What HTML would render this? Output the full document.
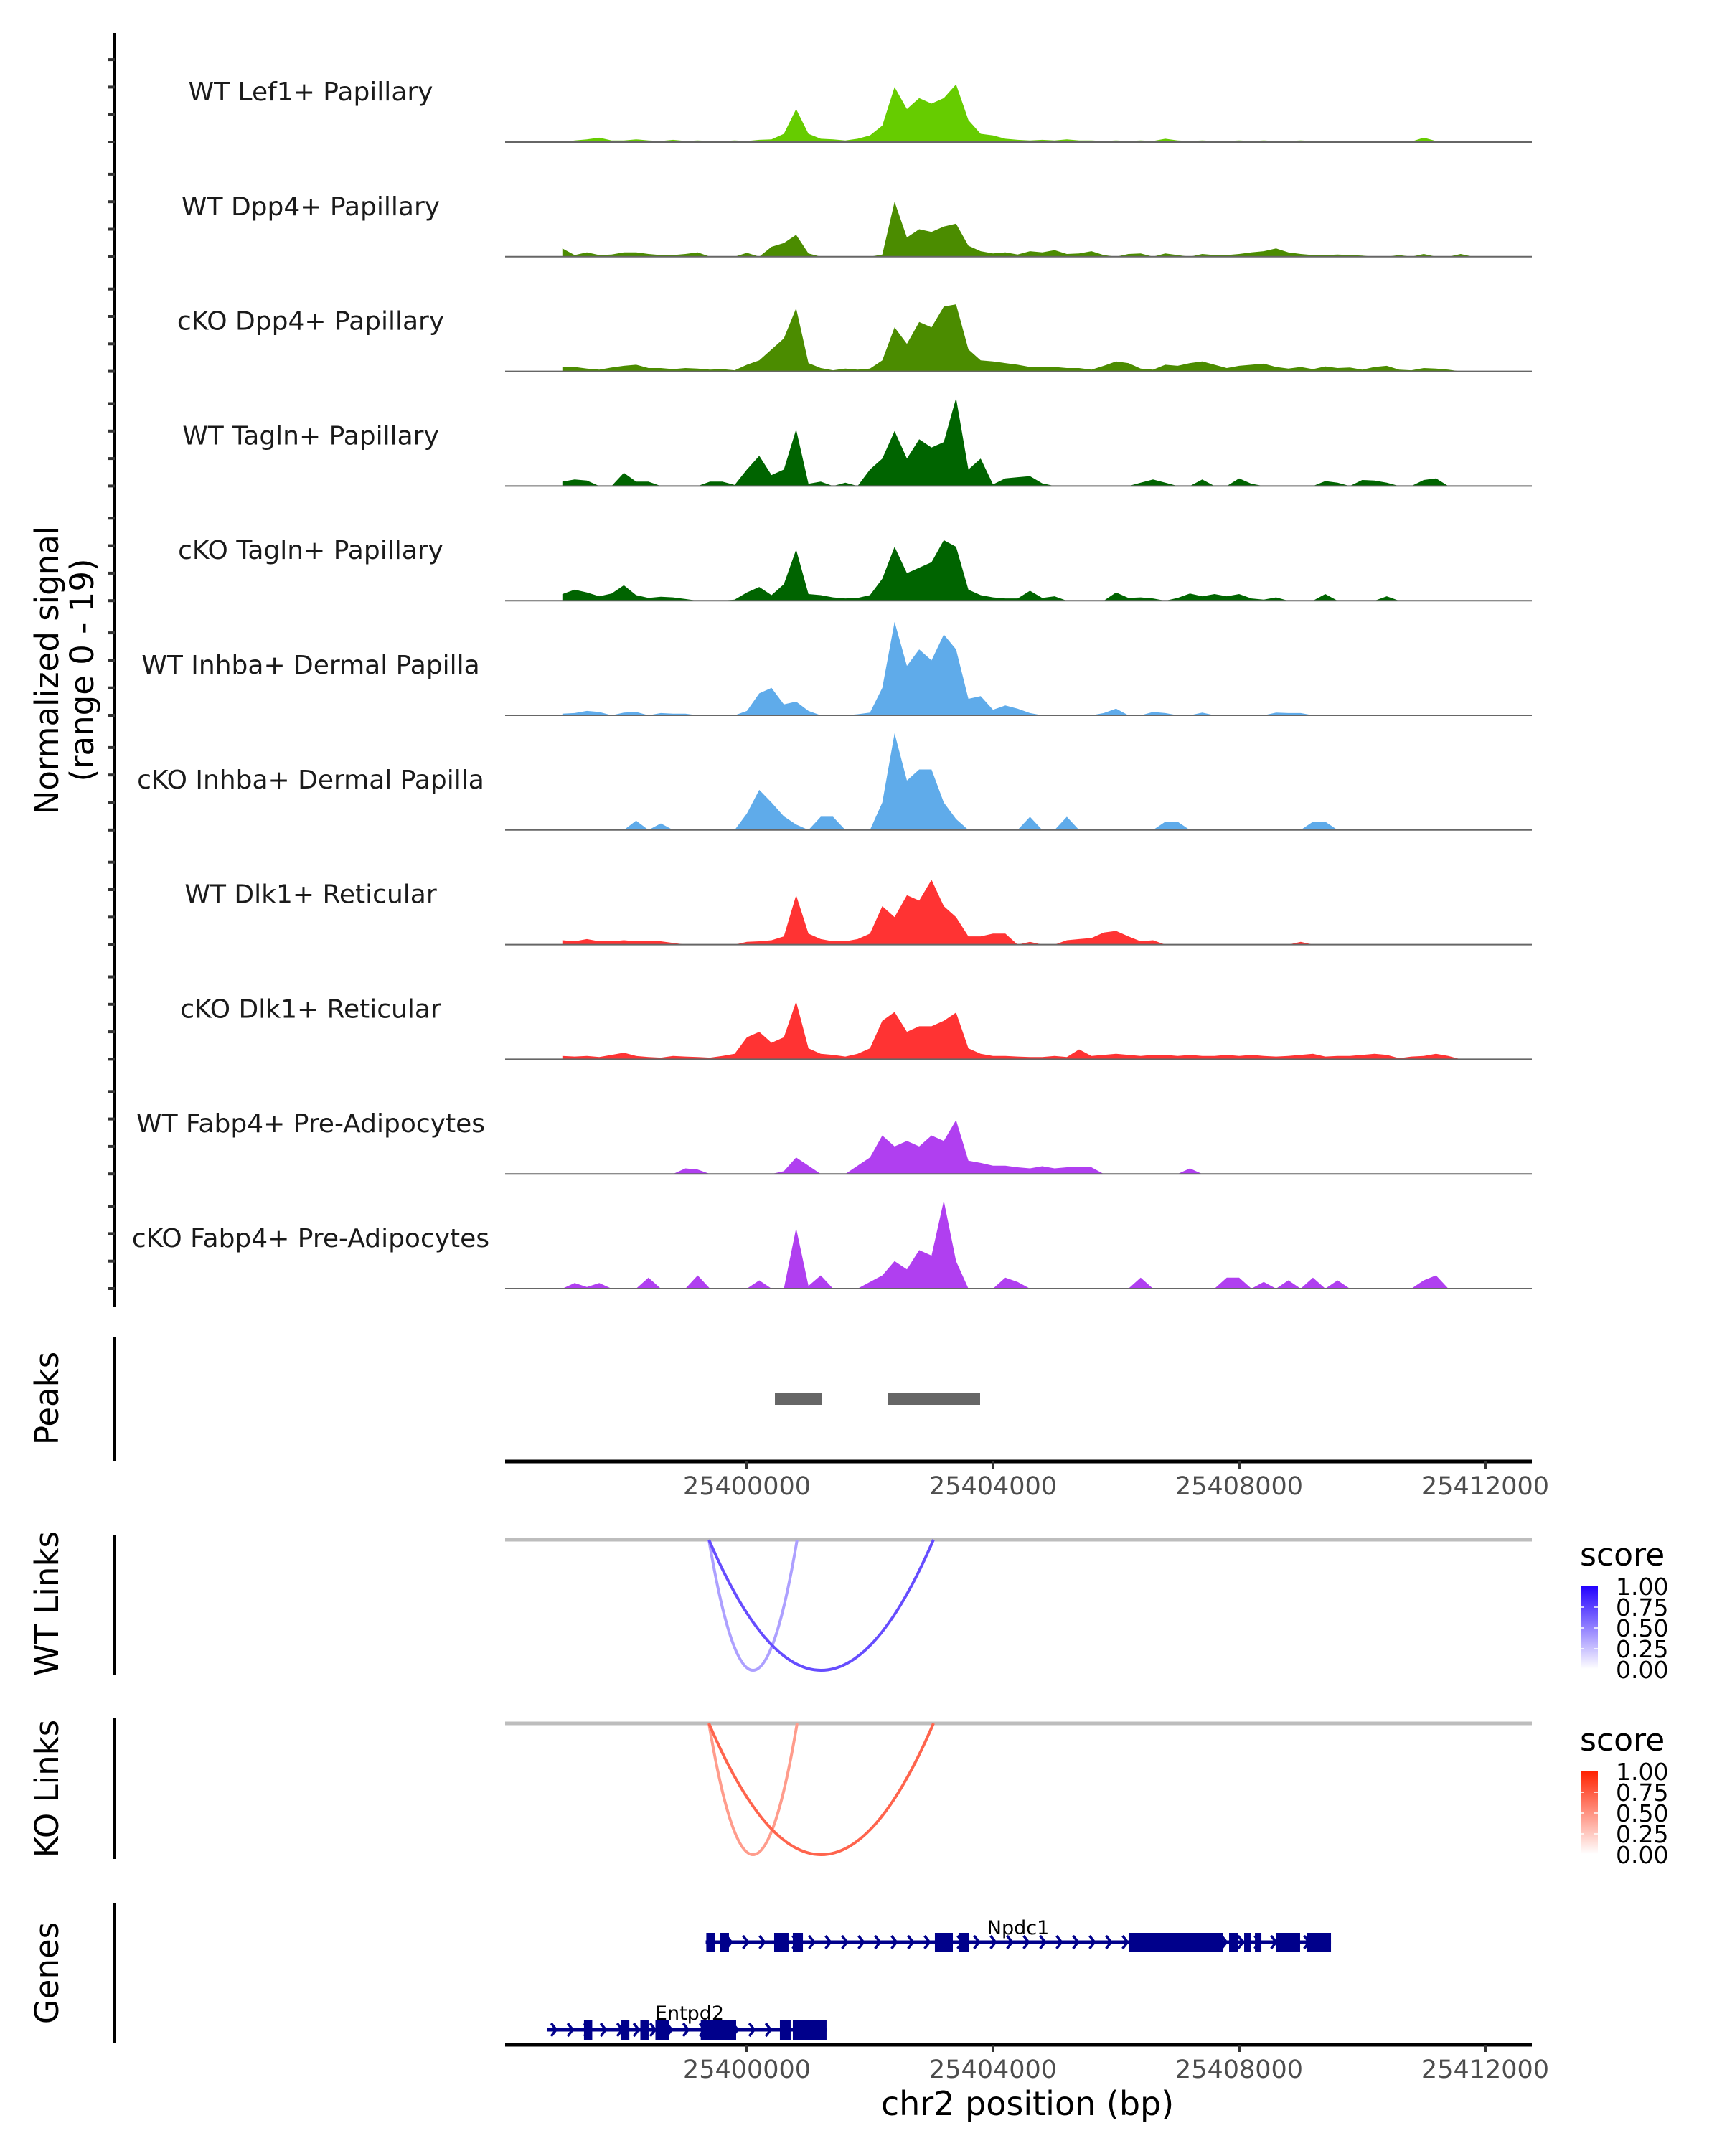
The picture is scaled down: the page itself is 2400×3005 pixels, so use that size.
<!DOCTYPE html>
<html><head><meta charset="utf-8"><style>
html,body{margin:0;padding:0;background:#fff}
svg text{font-family:"DejaVu Sans","Liberation Sans",sans-serif}
</style></head><body>
<svg id="chart" xmlns="http://www.w3.org/2000/svg" width="2400" height="3000" viewBox="0 0 2400 3000">
<defs>
<linearGradient id="gBlue" x1="0" y1="1" x2="0" y2="0"><stop offset="0" stop-color="#ffffff"/><stop offset="1" stop-color="#2200ff"/></linearGradient>
<linearGradient id="gRed" x1="0" y1="1" x2="0" y2="0"><stop offset="0" stop-color="#ffffff"/><stop offset="1" stop-color="#ff2200"/></linearGradient>
</defs>
</svg>
<script>
// ---- data ----
const trackNames = ["WT Lef1+ Papillary","WT Dpp4+ Papillary","cKO Dpp4+ Papillary","WT Tagln+ Papillary","cKO Tagln+ Papillary","WT Inhba+ Dermal Papilla","cKO Inhba+ Dermal Papilla","WT Dlk1+ Reticular","cKO Dlk1+ Reticular","WT Fabp4+ Pre-Adipocytes","cKO Fabp4+ Pre-Adipocytes"];
const trackColors = ["#66cc00","#4b8c00","#4b8c00","#006400","#006400","#5fabea","#5fabea","#ff3333","#ff3333","#b03ff0","#b03ff0"];
const binStart = 25397000;
const binSize = 200;
const sigLef1 = [0,0.3,0.5,0.8,0.3, 0.3,0.5,0.3,0.2,0.4, 0.2,0.3,0.2,0.2,0.3, 0.2,0.4,0.5,1.5,6, 1.5,0.6,0.5,0.3,0.6, 1.2,3,10,6,8, 7,8,10.5,4,1.5, 1.2,0.6,0.4,0.3,0.4, 0.3,0.5,0.3,0.3,0.2, 0.3,0.2,0.3,0.2,0.6, 0.3,0.2,0.3,0.2,0.2, 0.3,0.2,0.3,0.2,0.2, 0.3,0.2,0.2,0.2,0.2, 0.2,0.1,0.1,0.2,0.1, 0.8,0.2,0.1,0,0];
const sigWtDpp4 = [1.5,0.3,0.8,0.3,0.4, 0.8,0.8,0.5,0.3,0.3, 0.5,0.8,0,0,0, 0.7,0,1.8,2.5,4, 0.6,0,0,0,0, 0,0.4,10,3.5,5, 4.5,5.5,6,2,1, 0.6,0.8,0.4,1,0.8, 1.2,0.5,0.6,1,0.3, 0,0.5,0.6,0,0.6, 0.3,0,0.5,0.3,0.3, 0.5,0.8,1,1.5,0.8, 0.5,0.3,0.3,0.4,0.3, 0.2,0,0,0.3,0, 0.5,0,0,0.5,0];
const sigKoDpp4 = [0.8,0.8,0.5,0.3,0.7, 1.0,1.2,0.6,0.6,0.4, 0.6,0.5,0.3,0.4,0.2, 1.2,2,4,6,11.5, 1.5,0.6,0.2,0.5,0.3, 0.5,2,8,5,9, 8,11.8,12.2,4,2, 1.8,1.5,1.2,0.8,0.8, 0.8,0.6,0.6,0.3,1.0, 1.8,1.5,0.5,0.3,1.2, 1.0,1.5,1.8,1.2,0.6, 1.0,1.2,1.4,0.8,0.5, 0.8,0.4,0.9,0.6,0.7, 0.3,0.8,1,0.3,0.2, 0.6,0.5,0.3,0,0];
const sigWtTagln = [0.8,1.2,1,0,0, 2.4,0.8,0.8,0,0, 0,0,0.8,0.8,0.2, 3,5.5,2,3,10.3, 0.4,0.8,0,0.6,0, 3,5,10,5,8.5, 7,8,16,3,5, 0.3,1.4,1.6,1.8,0.5, 0,0,0,0,0, 0,0,0.6,1.2,0.6, 0,0,1.2,0,0, 1.4,0.4,0,0,0, 0,0,0.9,0.6,0, 1.1,1,0.6,0,0, 1.1,1.4,0,0,0];
const sigKoTagln = [1.2,2,1.5,0.8,1.3, 2.8,1,0.5,0.7,0.6, 0.3,0,0,0,0.2, 1.5,2.5,1,3,9.3, 1.2,1,0.6,0.4,0.5, 1,4,9.8,5,6, 7,11,9.8,2,1, 0.6,0.4,0.4,1.8,0.5, 0.8,0,0,0,0, 1.5,0.5,0.6,0.4,0, 0.5,1.3,0.8,1.2,0.8, 1.2,0.4,0.2,0.6,0, 0,0,1.2,0,0, 0,0,0.8,0,0, 0,0,0,0,0];
const sigWtInhba = [0.3,0.4,0.8,0.6,0, 0.5,0.6,0,0.4,0.3, 0.3,0,0,0,0, 0.8,4,5,2,2.5, 0.8,0,0,0,0.2, 0.5,5,17,9,12, 10,14.7,12,3,3.5, 1,1.8,1.2,0.4,0, 0,0,0,0,0.4, 1.2,0,0,0.6,0.4, 0,0,0.5,0,0, 0,0,0,0.5,0.4, 0.4,0,0,0,0, 0,0,0,0,0, 0,0,0,0,0];
const sigKoInhba = [0,0,0,0,0, 0,1.7,0,1.2,0, 0,0,0,0,0, 3,7.3,5,2.5,1, 0,2.4,2.4,0,0, 0,5,17.6,9,11, 11,5,2,0,0, 0,0,0,2.4,0, 0,2.4,0,0,0, 0,0,0,0,1.5, 1.5,0,0,0,0, 0,0,0,0,0, 0,1.5,1.5,0,0, 0,0,0,0,0, 0,0,0,0,0];
const sigWtDlk1 = [0.8,0.6,1,0.6,0.6, 0.8,0.6,0.6,0.6,0.3, 0,0,0,0,0, 0.5,0.6,0.8,1.5,9, 2,1,0.6,0.6,1, 2,7,5,9,8, 11.8,7,5,1.5,1.5, 2,2,0,0.5,0, 0,0.8,1,1.2,2.2, 2.5,1.5,0.6,0.8,0, 0,0,0,0,0, 0,0,0,0,0, 0.5,0,0,0,0, 0,0,0,0,0, 0,0,0,0,0];
const sigKoDlk1 = [0.6,0.5,0.6,0.4,0.8, 1.2,0.6,0.4,0.3,0.6, 0.5,0.4,0.3,0.6,1, 4,5,3,4,10.5, 2,1,0.8,0.5,1, 2,7,8.6,5,6, 6,7,8.5,2,1, 0.6,0.6,0.5,0.4,0.4, 0.6,0.4,1.8,0.6,0.8, 1,0.8,0.6,0.8,0.8, 0.6,0.8,0.6,0.6,0.8, 0.6,0.8,0.6,0.5,0.6, 0.8,1,0.5,0.6,0.6, 0.8,1,0.8,0.2,0.5, 0.6,1,0.6,0,0];
const sigWtFabp4 = [0,0,0,0,0, 0,0,0,0,0, 1,0.8,0,0,0, 0,0,0,0.5,3, 1.5,0,0,0,1.5, 3,7,5,6,5, 7,6,9.8,2.4,2, 1.5,1.5,1.2,1,1.4, 1,1.2,1.2,1.2,0, 0,0,0,0,0, 0,1,0,0,0, 0,0,0,0,0, 0,0,0,0,0, 0,0,0,0,0, 0,0,0,0,0];
const sigKoFabp4 = [0,1,0.3,1,0, 0,0,2,0,0, 0,2.4,0,0,0, 0,1.5,0,0,11, 0.5,2.4,0,0,0, 1.2,2.4,5,3.5,7, 6,16,5,0,0, 0,2,1.2,0,0, 0,0,0,0,0, 0,0,2,0,0, 0,0,0,0,2, 2,0,1.2,0,1.5, 0,2,0,1.5,0, 0,0,0,0,0, 1.5,2.4,0,0,0];
const allSignals = [sigLef1,sigWtDpp4,sigKoDpp4,sigWtTagln,sigKoTagln,sigWtInhba,sigKoInhba,sigWtDlk1,sigKoDlk1,sigWtFabp4,sigKoFabp4];
const xTicks = [25400000,25404000,25408000,25412000];
const peakStarts = [25400455,25402297];
const peakEnds = [25401224,25403790];
const linkStarts = [25399382,25399382];
const linkEnds = [25400816,25403032];
const wtLinkScores = [0.4,0.75];
const koLinkScores = [0.45,0.7];
const legendLabels = ["1.00","0.75","0.50","0.25","0.00"];
const npdc1Range = [25399330,25409493];
const npdc1ExonStarts = [25399340,25399560,25400443,25400746,25403055,25403440,25406204,25407837,25408082,25408257,25408595,25409096];
const npdc1ExonEnds = [25399480,25399708,25400676,25400910,25403347,25403615,25407743,25407988,25408187,25408362,25408991,25409493];
const entpd2Range = [25396749,25401294];
const entpd2ExonStarts = [25397352,25397955,25398268,25398513,25399250,25400536,25400746];
const entpd2ExonEnds = [25397486,25398089,25398402,25398736,25399825,25400711,25401294];

// ---- scales ----
const X0 = 704, X1 = 2135;
const xs = bp => 1041 + (bp - 25400000) * 0.08575;
const baseY = i => 198 + 159.8 * i;
const yUnit = 7.66;
const svg = document.getElementById('chart');
const NS = 'http://www.w3.org/2000/svg';
function mk(tag, attrs, parent) {
  const e = document.createElementNS(NS, tag);
  for (const k in attrs) e.setAttribute(k, attrs[k]);
  (parent || svg).appendChild(e);
  return e;
}
function txt(s, attrs, parent) { const t = mk('text', attrs, parent); t.textContent = s; return t; }

let g = mk('g', {});


mk('line', {x1:160, y1:46, x2:160, y2:1822, stroke:'#000', 'stroke-width':4}, g);
for (let i = 0; i < 11; i++) {
  for (let k = 0; k < 4; k++) {
    const y = baseY(i) - k * 5 * yUnit;
    mk('line', {x1:150, y1:y, x2:160, y2:y, stroke:'#333', 'stroke-width':4}, g);
  }
}
let t = txt('Normalized signal', {x:0, y:0, 'font-size':45, 'text-anchor':'middle', transform:'translate(81,934) rotate(-90)', fill:'#000'});


t = txt('(range 0 - 19)', {x:0, y:0, 'font-size':45, 'text-anchor':'middle', transform:'translate(130,934) rotate(-90)', fill:'#000'});



for (let i = 0; i < 11; i++) {
  const tg = mk('g', {});
  
  
  const b = baseY(i);
  const vals = allSignals[i];
  let d = 'M' + xs(binStart).toFixed(1) + ',' + b;
  vals.forEach((v, j) => { d += ' L' + xs(binStart + binSize * j).toFixed(1) + ',' + (b - v * yUnit).toFixed(1); });
  d += ' L' + xs(binStart + binSize * (vals.length - 1)).toFixed(1) + ',' + b + ' Z';
  const p = mk('path', {d:d, fill:trackColors[i], stroke:'none'}, tg);
  
  
  mk('line', {x1:X0, y1:b, x2:X1, y2:b, stroke:'#666', 'stroke-width':2}, tg);
  const lt = txt(trackNames[i], {x:433, y:b - 58, 'font-size':36, 'text-anchor':'middle', fill:'#1a1a1a'}, tg);
  
  
}

function sideLabel(s, y, y1, y2, name) {
  const gg = mk('g', {});
  
  
  mk('line', {x1:160, y1:y1, x2:160, y2:y2, stroke:'#000', 'stroke-width':4}, gg);
  txt(s, {x:0, y:0, 'font-size':45, 'text-anchor':'middle', transform:'translate(81,' + y + ') rotate(-90)', fill:'#000'}, gg);
}
sideLabel('Peaks', 1949, 1863, 2036, 'peaks-panel-label');
sideLabel('WT Links', 2235, 2139, 2334, 'wt-links-panel-label');
sideLabel('KO Links', 2493, 2395, 2591, 'ko-links-panel-label');
sideLabel('Genes', 2750, 2652, 2848, 'genes-panel-label');

peakStarts.forEach((s, j) => {
  const r = mk('rect', {x:xs(s), y:1941, width:xs(peakEnds[j]) - xs(s), height:17, fill:'#666'});
  
  
});

function xAxis(y, name) {
  const gg = mk('g', {});
  
  
  mk('line', {x1:X0, y1:y, x2:X1, y2:y, stroke:'#000', 'stroke-width':5}, gg);
  xTicks.forEach(v => {
    mk('line', {x1:xs(v), y1:y, x2:xs(v), y2:y + 10, stroke:'#333', 'stroke-width':4}, gg);
    txt(String(v), {x:xs(v), y:y + 46, 'font-size':35, 'text-anchor':'middle', fill:'#4d4d4d'}, gg);
  });
}
xAxis(2037, 'peaks-x-axis');

function mixColor(lo, hi, s) {
  const c = lo.map((v, k) => Math.round(v + (hi[k] - v) * s));
  return `rgb(${c[0]},${c[1]},${c[2]})`;
}
function links(y0, yb, scores, lo, hi, grad, ly, name) {
  const gg = mk('g', {});
  
  
  mk('line', {x1:X0, y1:y0, x2:X1, y2:y0, stroke:'#bdbdbd', 'stroke-width':5}, gg);
  const dep = (yb - y0) * 2;
  scores.forEach((sc, j) => {
    const a = xs(linkStarts[j]), b = xs(linkEnds[j]);
    const col = mixColor(lo, hi, sc);
    const p = mk('path', {d:`M${a},${y0} Q${(a + b) / 2},${y0 + dep} ${b},${y0}`, fill:'none', stroke:col, 'stroke-width':4}, gg);
    
    
  });
  const lg = mk('g', {}, gg);
  
  
  txt('score', {x:2202, y:ly - 28, 'font-size':44, fill:'#000'}, lg);
  mk('rect', {x:2203, y:ly, width:24, height:116, fill:grad}, lg);
  legendLabels.forEach((l, k) => {
    const yy = ly + 1 + k * 29;
    if (k > 0 && k < 4) {
      mk('line', {x1:2203, y1:yy, x2:2208, y2:yy, stroke:'#fff', 'stroke-width':1.5}, lg);
      mk('line', {x1:2222, y1:yy, x2:2227, y2:yy, stroke:'#fff', 'stroke-width':1.5}, lg);
    }
    txt(l, {x:2252, y:yy + 12, 'font-size':33, fill:'#000'}, lg);
  });
}
links(2146, 2328, wtLinkScores, [255,255,255], [51,17,255], 'url(#gBlue)', 2210, 'wt-links');
links(2402, 2585, koLinkScores, [255,255,255], [255,34,0], 'url(#gRed)', 2468, 'ko-links');

function gene(name, range, es, ee, y, lx, ly) {
  const gg = mk('g', {});
  
  
  const a = xs(range[0]), b = xs(range[1]);
  mk('line', {x1:a, y1:y, x2:b, y2:y, stroke:'#00008b', 'stroke-width':5}, gg);
  for (let x = a + 6; x < b - 8; x += 23) {
    mk('path', {d:`M${x},${y - 9} L${x + 7},${y} L${x},${y + 9}`, fill:'none', stroke:'#00008b', 'stroke-width':3.5}, gg);
  }
  es.forEach((s, j) => {
    const r = mk('rect', {x:xs(s), y:y - 13, width:Math.max(4, xs(ee[j]) - xs(s)), height:27, fill:'#00008b'}, gg);
    
    
  });
  txt(name, {x:lx, y:ly, 'font-size':27, 'text-anchor':'middle', fill:'#000'}, gg);
}
gene('Npdc1', npdc1Range, npdc1ExonStarts, npdc1ExonEnds, 2707, 1419, 2696);
gene('Entpd2', entpd2Range, entpd2ExonStarts, entpd2ExonEnds, 2829, 961, 2815);
xAxis(2850, 'genes-x-axis');
t = txt('chr2 position (bp)', {x:1432, y:2948, 'font-size':46, 'text-anchor':'middle', fill:'#000'});


</script>
</body></html>
